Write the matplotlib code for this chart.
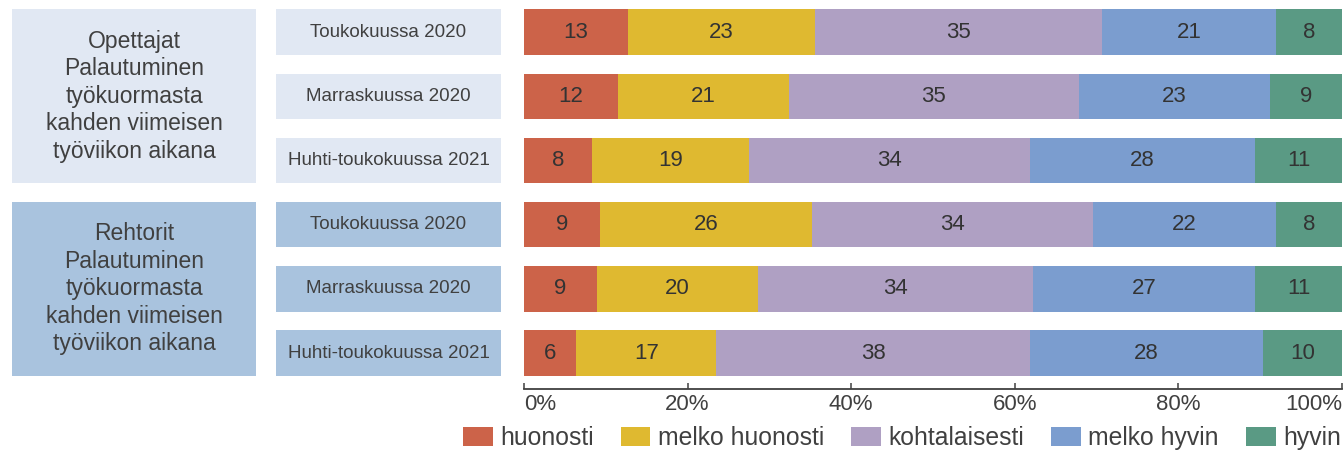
import matplotlib
matplotlib.use("Agg")
import matplotlib.pyplot as plt
from matplotlib.patches import Rectangle
import matplotlib.transforms as mtransforms

plt.rcParams['font.family'] = ['Liberation Sans', 'DejaVu Sans']

# ---- data ----
periods = ["Toukokuussa 2020", "Marraskuussa 2020", "Huhti-toukokuussa 2021",
           "Toukokuussa 2020", "Marraskuussa 2020", "Huhti-toukokuussa 2021"]
groups = ["Opettajat\nPalautuminen\ntyökuormasta\nkahden viimeisen\ntyöviikon aikana",
          "Rehtorit\nPalautuminen\ntyökuormasta\nkahden viimeisen\ntyöviikon aikana"]
categories = ["huonosti", "melko huonosti", "kohtalaisesti", "melko hyvin", "hyvin"]
huonosti = [12.7, 11.5, 8.3, 9.3, 8.9, 6.4]
melko_huonosti = [22.9, 20.9, 19.2, 25.9, 19.7, 17.1]
kohtalaisesti = [35.1, 35.4, 34.3, 34.4, 33.6, 38.4]
melko_hyvin = [21.2, 23.4, 27.6, 22.3, 27.2, 28.4]
hyvin = [8.1, 8.8, 10.6, 8.1, 10.6, 9.7]
series = [huonosti, melko_huonosti, kohtalaisesti, melko_hyvin, hyvin]
xticks = [0, 20, 40, 60, 80, 100]
xticklabels = ["0%", "20%", "40%", "60%", "80%", "100%"]

colors = ["#cc6349", "#dfb930", "#afa0c3", "#7b9dcf", "#5a9a84"]
box_light = "#e1e8f3"
box_dark = "#a9c3de"
text_col = "#404040"
num_col = "#333333"

W, H = 1344, 451
fig = plt.figure(figsize=(W / 100, H / 100), dpi=100)
ax_left, ax_right = 524 / W, 1342 / W
ax_bottom = (H - 389.4) / H
ax = fig.add_axes([ax_left, ax_bottom, ax_right - ax_left, 1 - ax_bottom])

bar_h = 0.705
ypos = list(range(len(periods)))
left = [0.0] * len(periods)
for cat, vals, col in zip(categories, series, colors):
    ax.barh(ypos, vals, left=left, height=bar_h, color=col, label=cat, linewidth=0)
    for y, v, l in zip(ypos, vals, left):
        ax.text(l + v / 2, y, f"{v:.0f}", ha="center", va="center",
                fontsize=16, color=num_col)
    left = [a + b for a, b in zip(left, vals)]

ax.set_xlim(0, 100)
ax.set_ylim(5.566, -0.5)
ax.set_yticks([])
for s in ["top", "right", "left"]:
    ax.spines[s].set_visible(False)
ax.spines["bottom"].set_color(text_col)
ax.spines["bottom"].set_linewidth(1.3)
ax.set_xticks(xticks)
ax.set_xticklabels(xticklabels)
ax.tick_params(axis="x", direction="in", length=4, width=1.1, color=text_col,
               labelsize=16, labelcolor=text_col, pad=3)
tl = ax.get_xticklabels()
tl[0].set_ha("left")
tl[-1].set_ha("right")

# ---- label boxes ----
trans = mtransforms.blended_transform_factory(fig.transFigure, ax.transData)
for i, p in enumerate(periods):
    fc = box_light if i < 3 else box_dark
    ax.add_patch(Rectangle((276 / W, i - bar_h / 2), (501 - 276) / W, bar_h,
                           transform=trans, facecolor=fc, edgecolor="none", clip_on=False))
    ax.text(388.5 / W, i, p, transform=trans, ha="center", va="center",
            fontsize=13.5, color=text_col)

for g, (name, fc) in enumerate(zip(groups, [box_light, box_dark])):
    y0 = 3 * g - bar_h / 2
    y1 = 3 * g + 2 + bar_h / 2
    ax.add_patch(Rectangle((12 / W, y0), (256 - 12) / W, y1 - y0,
                           transform=trans, facecolor=fc, edgecolor="none", clip_on=False))
    ax.text(134 / W, (y0 + y1) / 2, name, transform=trans, ha="center", va="center",
            fontsize=16.5, color=text_col, linespacing=1.25, multialignment="center")

# ---- legend ----
handles, labels = ax.get_legend_handles_labels()
leg = fig.legend(handles, labels, loc="center", ncol=5,
                 bbox_to_anchor=(902 / W, (H - 438) / H), frameon=False,
                 fontsize=17.8, handlelength=1.2, handleheight=0.8,
                 handletextpad=0.3, columnspacing=1.1, borderaxespad=0, borderpad=0)
for t in leg.get_texts():
    t.set_color(text_col)

fig.savefig("out.png", dpi=100)
